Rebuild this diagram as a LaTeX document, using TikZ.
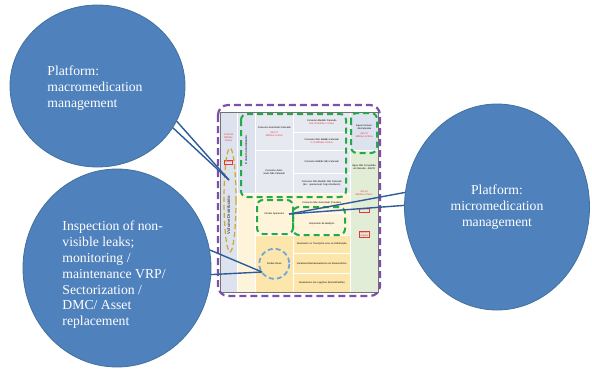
\documentclass[tikz,border=0pt]{standalone}
\usepackage{fontspec}
\setmainfont{Liberation Serif}
\newfontfamily\tabfont{Liberation Sans}
\usetikzlibrary{shapes.geometric}
\definecolor{bubblefill}{HTML}{4F81BD}
\definecolor{bubbleline}{HTML}{41719C}
\definecolor{linkblue}{HTML}{2E5C9A}
\definecolor{valred}{HTML}{E8343A}
\definecolor{cellblue}{HTML}{DCE2EE}
\definecolor{cellgrey}{HTML}{E6E9F0}
\definecolor{cellcream}{HTML}{FEF4DA}
\definecolor{cellyellow}{HTML}{FCE6AC}
\definecolor{cellgreen}{HTML}{E2EDD8}
\definecolor{dashpurple}{HTML}{7E4FA8}
\definecolor{dashgreen}{HTML}{22A94A}
\definecolor{dashgold}{HTML}{D4A62A}
\definecolor{dashring}{HTML}{6FA8DC}
\begin{document}
\begin{tikzpicture}[x=1pt, y=-1pt,
    bubble/.style = {draw=bubbleline, fill=bubblefill, ellipse, inner sep=0pt, line width=0.8pt},
    bubbletext/.style = {text=white, font=\fontsize{13.7}{15.8}\selectfont, align=left},
    link/.style = {draw=linkblue, line width=1.4pt},
    cell/.style = {draw=white, line width=0.6pt, anchor=north west, inner sep=0.5pt,
      align=center, font=\tabfont\fontsize{2.4}{2.9}\selectfont},
    vtext/.style = {rotate=90, font=\tabfont\fontsize{3}{3.5}\selectfont},
    val/.style = {text=valred, align=center, font=\tabfont\fontsize{2.4}{2.9}\selectfont},
    valbox/.style = {val, draw=valred, line width=0.3pt, inner sep=0.8pt},
    greendash/.style = {draw=dashgreen, line width=2pt, dash pattern=on 6pt off 4pt, rounded corners=6pt},
  ]
  \fill[white] (0,0) rectangle (592,376);
  \useasboundingbox (0,0) rectangle (592,376);

  % water balance table
  \node[cell, fill=cellblue, minimum width=17, minimum height=180] (vd) at (220,112) {};
  \node[cell, fill=cellblue, minimum width=18, minimum height=81] (cauto) at (237,112) {};
  \node[cell, fill=cellcream, minimum width=18, minimum height=99] (pda) at (237,193) {};
  \node[cell, fill=cellgrey, minimum width=38, minimum height=38, text width=34] (caf) at (255,112)
    {Consumo Autorizado Faturado\\[2pt] \textcolor{valred}{605,70\\Milhões m³/Ano}};
  \node[cell, fill=cellgrey, minimum width=38, minimum height=43, text width=34] (canf) at (255,150)
    {Consumo Autorizado Não Faturado};
  \node[cell, fill=cellcream, minimum width=38, minimum height=42, text width=34] (pa) at (255,193)
    {Perdas Aparentes};
  \node[cell, fill=cellyellow, minimum width=38, minimum height=57, text width=34] (pr) at (255,235)
    {Perdas Reais};
  \node[cell, fill=cellgrey, minimum width=57, minimum height=20, text width=53] (cmf) at (293,112)
    {Consumo Medido Faturado\\ \textcolor{valred}{605,00 Milhões m³/Ano}};
  \node[cell, fill=cellgrey, minimum width=57, minimum height=18, text width=53] (cnmf) at (293,132)
    {Consumo Não Medido Faturado\\ \textcolor{valred}{0,70 Milhões m³/Ano}};
  \node[cell, fill=cellgrey, minimum width=57, minimum height=23, text width=53] (cmnf) at (293,150)
    {Consumo Medido Não Faturado};
  \node[cell, fill=cellgrey, minimum width=57, minimum height=20, text width=53] (cnmnf) at (293,173)
    {Consumo Não Medido Não Faturado\\(Ex.: operacional; Fogo Bombeiro)};
  \node[cell, fill=cellcream, minimum width=57, minimum height=20, text width=53] (cna) at (293,193)
    {Consumo Não Autorizado (Fraudes)};
  \node[cell, fill=cellcream, minimum width=57, minimum height=22, text width=53] (im) at (293,213)
    {Imprecisão da Medição};
  \node[cell, fill=cellyellow, minimum width=57, minimum height=18, text width=53] (vt) at (293,235)
    {Vazamento no Transporte e/ou na Distribuição};
  \node[cell, fill=cellyellow, minimum width=57, minimum height=20, text width=53] (ve) at (293,253)
    {Vazamento/Extravasamento em Reservatórios};
  \node[cell, fill=cellyellow, minimum width=57, minimum height=19, text width=53] (vl) at (293,273)
    {Vazamentos nas Ligações (Ramal/Padrão)};
  \node[cell, fill=cellblue, minimum width=28, minimum height=38, text width=24] (acf) at (350,112)
    {Água Consumida Faturada\\[2pt] \textcolor{valred}{605,70\\Milhões m³/Ano}};
  \node[cell, fill=cellgreen, minimum width=28, minimum height=142] (ancr) at (350,150) {};
  \draw[black!55, line width=0.6pt] (vd.north west) rectangle (ancr.south east);

  % texts on the side columns
  \node[val] (vdval) at (228.5,138) {1.000,00\\Milhões\\m³/ano};
  \node[valbox] (vdpct) at (228.5,162) {100\%};
  \node[vtext, text=black!65, font=\tabfont\bfseries\fontsize{4.2}{5}\selectfont] (vdtxt) at (228.5,215) {Volume Distribuído};
  \node[vtext] (cautotxt) at (246,150) {Consumo Autorizado};
  \node[cell, draw=none, anchor=center, text width=24] (ancrtxt) at (364,167)
    {Água Não Convertida em Receita - ANCR};
  \node[val] (ancrval) at (364,193) {405,00\\Milhões m³/Ano};
  \node[valbox] (ancrpct) at (364,210) {40,00 \%};
  \node[valbox] (ancrlig) at (364,234) {298,00\\L/lig/dia};

  % highlights
  \draw[dashpurple, line width=2.2pt, dash pattern=on 7pt off 4pt, rounded corners=10pt]
    (218,105) rectangle (380,296);
  \draw[greendash] (241,114) rectangle (346,197);
  \draw[greendash] (351,113) rectangle (377,153);
  \draw[greendash] (257,200) rectangle (293,234);
  \draw[greendash] (293,207) rectangle (345,235);
  \draw[dashgold, line width=1.2pt, dash pattern=on 5pt off 3pt] (230,200) ellipse [x radius=6, y radius=52];
  \draw[dashring, line width=1.8pt, dash pattern=on 5pt off 3pt] (pr.center) circle [radius=15];

  % platforms
  \node[bubble, minimum width=175, minimum height=162] (macro) at (97.5,86) {};
  \node[bubbletext] (macrotxt) at (95,88) {Platform:\\macromedication\\management};
  \node[bubble, minimum width=188, minimum height=198] (insp) at (117,268) {};
  \node[bubbletext] (insptxt) at (114,275)
    {Inspection of non-\\visible leaks;\\monitoring /\\maintenance VRP/\\Sectorization /\\DMC/ Asset\\replacement};
  \node[bubble, minimum width=185, minimum height=206, bubbletext, align=center] (micro) at (497,207)
    {Platform:\\micromedication\\management};

  % connectors
  \coordinate (vdhit) at (229,180);
  \coordinate (prhit) at (262,272);
  \coordinate (pahit) at (289,214);
  \draw[link] (macro.-24) -- (vdhit);
  \draw[link] (macro.-29) -- (vdhit);
  \draw[link] (insp.11) -- (prhit);
  \draw[link] (insp.-4) -- (prhit);
  \draw[link] (micro.171) -- (pahit);
  \draw[link] (micro.179) -- (pahit);
\end{tikzpicture}
\end{document}
